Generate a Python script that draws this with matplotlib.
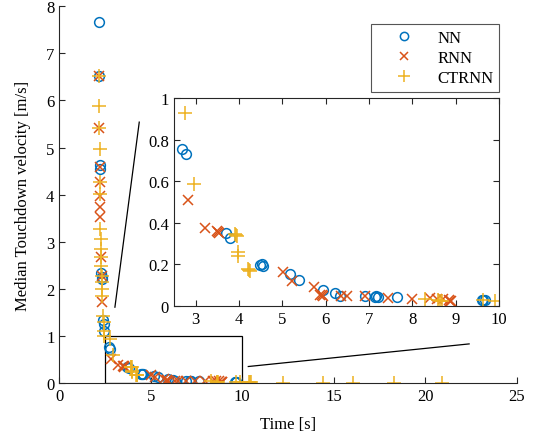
import numpy as np
import matplotlib
matplotlib.use("Agg")
import matplotlib.pyplot as plt
from matplotlib.patches import Rectangle

plt.rcParams['font.family'] = ['Liberation Serif', 'DejaVu Serif']
plt.rcParams['font.size'] = 12

# median touchdown velocity vs. time for each controller
nn_t = [2.17, 2.17, 2.20, 2.21, 2.30, 2.31, 2.33, 2.40, 2.42, 2.45, 2.69, 2.77,
        3.70, 3.79, 4.48, 4.52, 4.55, 5.18, 5.39, 5.95, 6.22, 6.33, 6.91,
        7.13, 7.17, 7.21, 7.64, 9.60, 9.64, 9.68]
nn_v = [7.67, 6.51, 4.62, 4.55, 2.33, 2.25, 2.20, 1.33, 1.25, 1.11, 0.755, 0.73,
        0.35, 0.325, 0.195, 0.20, 0.19, 0.154, 0.126, 0.077, 0.061, 0.05, 0.05,
        0.045, 0.05, 0.043, 0.042, 0.03, 0.028, 0.031]

rnn_t = [2.17, 2.18, 2.20, 2.21, 2.22, 2.23, 2.24, 2.28, 2.31, 2.36, 2.82, 3.22,
         3.49, 3.52, 3.55, 5.02, 5.22, 5.73, 5.88, 5.91, 5.94, 6.35, 6.50,
         6.91, 7.43, 7.99, 8.41, 8.57, 8.71, 8.84, 8.87, 8.90]
rnn_v = [6.51, 5.41, 4.59, 4.27, 3.98, 3.74, 3.52, 2.67, 2.28, 1.71, 0.51, 0.375,
         0.36, 0.357, 0.35, 0.165, 0.122, 0.093, 0.055, 0.053, 0.05, 0.047, 0.047,
         0.05, 0.037, 0.034, 0.038, 0.035, 0.033, 0.028, 0.026, 0.024]

ctrnn_t = [2.17, 2.17, 2.18, 2.20, 2.20, 2.22, 2.25, 2.26, 2.27, 2.28, 2.30, 2.31,
           2.32, 2.33, 2.34, 2.40, 2.42, 2.45, 2.47, 2.75, 2.96, 3.90, 3.93, 3.96,
           3.98, 3.98, 4.20, 4.23, 4.26, 8.30, 8.60, 8.64, 8.68, 9.64, 9.90,
           10.35, 10.42, 10.48, 12.24, 14.43, 16.03, 18.31, 20.90]
ctrnn_v = [6.51, 5.89, 5.41, 4.97, 4.27, 4.01, 3.27, 3.06, 2.85, 2.67, 2.49, 2.28,
           2.14, 2.00, 1.85, 1.43, 1.29, 1.11, 1.00, 0.93, 0.587, 0.345, 0.34, 0.335,
           0.26, 0.24, 0.18, 0.175, 0.17, 0.034, 0.028, 0.026, 0.024, 0.03, 0.023,
           0.02, 0.02, 0.02, 0.01, 0.01, 0.01, 0.01, 0.01]

# zoom window and the two guide lines (main-axes data coords)
zoom_x = (2.5, 10)
zoom_y = (0, 1)
guide1 = ([3.04, 4.37], [1.61, 5.54])
guide2 = ([10.33, 22.4], [0.35, 0.83])

c_nn = '#0072BD'
c_rnn = '#D95319'
c_ct = '#EDB120'
axcol = '#262626'


def draw_series(ax):
    h1, = ax.plot(nn_t, nn_v, 'o', ls='none', mfc='none', mec=c_nn, ms=7, mew=1.1)
    h2, = ax.plot(rnn_t, rnn_v, 'x', ls='none', color=c_rnn, ms=7, mew=1.1)
    h3, = ax.plot(ctrnn_t, ctrnn_v, '+', ls='none', color=c_ct, ms=10, mew=1.1)
    return [h1, h2, h3]


def style(ax):
    for s in ax.spines.values():
        s.set_color(axcol)
        s.set_linewidth(0.8)
    ax.tick_params(direction='in', color=axcol, labelcolor='black', length=4,
                   width=0.8, labelsize=12)


fig = plt.figure(figsize=(5.42, 4.39), dpi=100)
ax = fig.add_axes([0.1094, 0.1253, 0.8439, 0.8581])
draw_series(ax)
ax.set_xlim(0, 25)
ax.set_ylim(0, 8)
ax.set_xticks(np.arange(0, 26, 5))
ax.set_yticks(np.arange(0, 9, 1))
ax.spines['top'].set_visible(False)
ax.spines['right'].set_visible(False)
style(ax)
ax.set_xlabel('Time [s]', fontsize=12, labelpad=9)
ax.set_ylabel('Median Touchdown velocity [m/s]', fontsize=12, labelpad=11)

ax.add_patch(Rectangle((zoom_x[0], zoom_y[0]), zoom_x[1] - zoom_x[0],
                       zoom_y[1] - zoom_y[0], fill=False, ec='black', lw=0.9))
ax.plot(*guide1, color='black', lw=0.9, clip_on=False)
ax.plot(*guide2, color='black', lw=0.9, clip_on=False)

# zoomed inset
axin = fig.add_axes([0.321, 0.3007, 0.5996, 0.4738])
handles = draw_series(axin)
axin.set_xlim(*zoom_x)
axin.set_ylim(*zoom_y)
axin.set_xticks(np.arange(3, 11, 1))
axin.set_yticks([0, 0.2, 0.4, 0.6, 0.8, 1])
axin.set_yticklabels(['0', '0.2', '0.4', '0.6', '0.8', '1'])
axin.tick_params(top=True, right=True)
style(axin)

leg = fig.legend(handles, ['NN', 'RNN', 'CTRNN'], loc='upper right',
                 bbox_to_anchor=(0.921, 0.943), borderaxespad=0,
                 fancybox=False, fontsize=12, handlelength=3.2,
                 handletextpad=0.4, borderpad=0.35, labelspacing=0.25,
                 markerscale=0.85, framealpha=1)
leg.get_frame().set_edgecolor('#555555')
leg.get_frame().set_linewidth(0.8)

fig.savefig('out.png', dpi=100)
